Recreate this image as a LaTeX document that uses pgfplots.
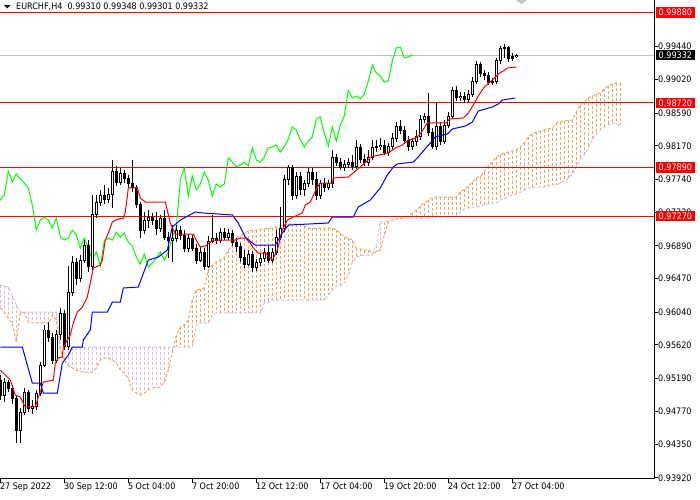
\documentclass[border=0pt]{standalone}
\usepackage{pgfplots}
\pgfplotsset{compat=1.18}
\usepackage{pgfplotstable}
\usepackage{fontspec}
\setmainfont{DejaVu Sans Condensed}
\definecolor{mtsandy}{HTML}{F4A460}
\definecolor{mtthistle}{HTML}{D8BFD8}
\definecolor{mtgreen}{HTML}{00FF00}
\definecolor{mtred}{HTML}{FF0000}
\definecolor{mtblue}{HTML}{0000FF}
\definecolor{mtsilver}{HTML}{C0C0C0}
\newcommand\lab{\fontsize{9}{10}\selectfont}

\pgfplotstableread{
i o h l c
0 0.95171 0.95235 0.94915 0.94979
1 0.94979 0.95197 0.94889 0.95145
2 0.95145 0.95171 0.95017 0.95069
3 0.95069 0.95107 0.94864 0.94941
4 0.94941 0.94979 0.94365 0.94531
5 0.94531 0.94813 0.94365 0.94761
6 0.94761 0.95069 0.94723 0.95017
7 0.95017 0.95043 0.94761 0.94813
8 0.94813 0.94915 0.94736 0.94838
9 0.94838 0.95043 0.94787 0.95005
10 0.95005 0.95401 0.94966 0.95363
11 0.95363 0.95876 0.95337 0.95812
12 0.95812 0.95914 0.95658 0.95710
13 0.95710 0.95774 0.95376 0.95427
14 0.95427 0.95812 0.95389 0.95748
15 0.95748 0.96094 0.95684 0.96017
16 0.96017 0.96068 0.95556 0.95607
17 0.95607 0.96631 0.95556 0.96298
18 0.96298 0.96759 0.96247 0.96682
19 0.96682 0.96733 0.96388 0.96477
20 0.96477 0.96772 0.96426 0.96708
21 0.96708 0.96964 0.96670 0.96900
22 0.96900 0.96964 0.96554 0.96631
23 0.96631 0.97541 0.96580 0.97285
24 0.97285 0.97541 0.97246 0.97451
25 0.97451 0.97605 0.97400 0.97528
26 0.97528 0.97669 0.97426 0.97477
27 0.97477 0.97631 0.97439 0.97541
28 0.97541 0.97989 0.97375 0.97848
29 0.97848 0.97912 0.97656 0.97707
30 0.97707 0.97887 0.97669 0.97810
31 0.97810 0.97861 0.97694 0.97746
32 0.97746 0.97797 0.97631 0.97694
33 0.97694 0.97989 0.97579 0.97631
34 0.97631 0.97669 0.97375 0.97413
35 0.97413 0.97451 0.96990 0.97092
36 0.97092 0.97323 0.97041 0.97220
37 0.97220 0.97349 0.97118 0.97259
38 0.97259 0.97310 0.97156 0.97220
39 0.97220 0.97323 0.97028 0.97118
40 0.97118 0.97285 0.97066 0.97246
41 0.97246 0.97349 0.96964 0.97002
42 0.97002 0.97066 0.96733 0.96964
43 0.96964 0.97156 0.96682 0.96990
44 0.96990 0.97156 0.96938 0.97092
45 0.97092 0.97143 0.96964 0.97028
46 0.97028 0.97092 0.96810 0.96861
47 0.96861 0.97041 0.96810 0.96990
48 0.96990 0.97028 0.96823 0.96861
49 0.96861 0.96913 0.96657 0.96708
50 0.96708 0.96874 0.96682 0.96810
51 0.96810 0.96861 0.96580 0.96631
52 0.96631 0.97015 0.96605 0.96951
53 0.96951 0.97285 0.96926 0.96990
54 0.96990 0.97054 0.96913 0.96964
55 0.96964 0.97118 0.96926 0.97066
56 0.97066 0.97118 0.96964 0.97002
57 0.97002 0.97105 0.96964 0.97054
58 0.97054 0.97092 0.96887 0.96938
59 0.96938 0.96990 0.96810 0.96887
60 0.96887 0.96926 0.96682 0.96746
61 0.96746 0.96836 0.96605 0.96657
62 0.96657 0.96836 0.96631 0.96785
63 0.96785 0.96823 0.96554 0.96618
64 0.96618 0.96721 0.96567 0.96670
65 0.96670 0.96798 0.96631 0.96733
66 0.96733 0.96861 0.96682 0.96810
67 0.96810 0.96887 0.96670 0.96708
68 0.96708 0.96861 0.96670 0.96810
69 0.96810 0.97092 0.96772 0.97002
70 0.97002 0.97387 0.96964 0.97118
71 0.97118 0.97797 0.97066 0.97733
72 0.97733 0.97925 0.97669 0.97887
73 0.97887 0.97925 0.97477 0.97528
74 0.97528 0.97835 0.97490 0.97784
75 0.97784 0.97835 0.97541 0.97605
76 0.97605 0.97733 0.97528 0.97682
77 0.97682 0.97887 0.97643 0.97835
78 0.97835 0.97887 0.97669 0.97733
79 0.97733 0.97835 0.97477 0.97528
80 0.97528 0.97733 0.97490 0.97682
81 0.97682 0.97759 0.97579 0.97643
82 0.97643 0.97733 0.97605 0.97682
83 0.97682 0.98117 0.97631 0.98015
84 0.98015 0.98066 0.97912 0.97963
85 0.97963 0.98015 0.97861 0.97899
86 0.97899 0.97989 0.97848 0.97925
87 0.97925 0.98015 0.97887 0.97963
88 0.97963 0.98053 0.97861 0.97912
89 0.97912 0.98245 0.97874 0.98143
90 0.98143 0.98194 0.97951 0.97989
91 0.97989 0.98066 0.97912 0.97963
92 0.97963 0.98117 0.97912 0.98027
93 0.98027 0.98245 0.97989 0.98143
94 0.98143 0.98245 0.98091 0.98156
95 0.98156 0.98271 0.98117 0.98181
96 0.98181 0.98245 0.98053 0.98091
97 0.98091 0.98207 0.98040 0.98156
98 0.98156 0.98335 0.98117 0.98258
99 0.98258 0.98475 0.98219 0.98412
100 0.98412 0.98501 0.98322 0.98373
101 0.98373 0.98424 0.98194 0.98245
102 0.98245 0.98296 0.98104 0.98156
103 0.98156 0.98271 0.98117 0.98232
104 0.98232 0.98373 0.98168 0.98284
105 0.98284 0.98565 0.98245 0.98514
106 0.98514 0.98591 0.98463 0.98540
107 0.98540 0.98847 0.98296 0.98335
108 0.98335 0.98399 0.98130 0.98168
109 0.98168 0.98719 0.98117 0.98412
110 0.98412 0.98475 0.98181 0.98232
111 0.98232 0.98501 0.98194 0.98437
112 0.98437 0.98603 0.98399 0.98552
113 0.98552 0.98924 0.98514 0.98885
114 0.98885 0.98936 0.98744 0.98783
115 0.98783 0.98859 0.98744 0.98808
116 0.98808 0.98859 0.98719 0.98770
117 0.98770 0.98885 0.98731 0.98834
118 0.98834 0.99052 0.98796 0.99000
119 0.99000 0.99257 0.98962 0.99206
120 0.99206 0.99244 0.99052 0.99103
121 0.99103 0.99142 0.99013 0.99065
122 0.99065 0.99116 0.98949 0.98987
123 0.98987 0.99039 0.98949 0.99000
124 0.99000 0.99295 0.98962 0.99257
125 0.99257 0.99449 0.99218 0.99423
126 0.99423 0.99474 0.99295 0.99436
127 0.99436 0.99449 0.99244 0.99295
128 0.99295 0.99359 0.99257 0.99308
129 0.99310 0.99348 0.99301 0.99332
}\candles

\pgfplotstableread{
i a b
0 0.96094 0.96388
1 0.96042 0.96375
2 0.95966 0.96362
3 0.95902 0.96247
4 0.95658 0.96132
5 0.96030 0.96042
6 0.96030 0.96042
7 0.95914 0.96042
8 0.95902 0.96042
9 0.95902 0.96042
10 0.95902 0.96042
11 0.95902 0.96042
12 0.95889 0.96042
13 0.96004 0.96042
14 0.95940 0.96042
15 0.95556 0.95594
16 0.95427 0.95594
17 0.95350 0.95594
18 0.95325 0.95594
19 0.95299 0.95594
20 0.95286 0.95594
21 0.95273 0.95594
22 0.95273 0.95594
23 0.95273 0.95594
24 0.95325 0.95594
25 0.95427 0.95594
26 0.95453 0.95594
27 0.95453 0.95594
28 0.95427 0.95594
29 0.95389 0.95594
30 0.95299 0.95594
31 0.95261 0.95594
32 0.95197 0.95594
33 0.95043 0.95594
34 0.95005 0.95594
35 0.94979 0.95594
36 0.95005 0.95594
37 0.95043 0.95594
38 0.95069 0.95594
39 0.95081 0.95594
40 0.95081 0.95594
41 0.95145 0.95594
42 0.95299 0.95594
43 0.95530 0.95594
44 0.95748 0.95594
45 0.95850 0.95594
46 0.95876 0.95594
47 0.95940 0.95594
48 0.96196 0.95594
49 0.96324 0.95876
50 0.96337 0.95902
51 0.96350 0.95902
52 0.96580 0.95902
53 0.96644 0.96004
54 0.96682 0.96030
55 0.96708 0.96030
56 0.96733 0.96030
57 0.96836 0.96030
58 0.96900 0.96030
59 0.96990 0.96030
60 0.97015 0.96030
61 0.97054 0.96030
62 0.97079 0.96030
63 0.97092 0.96030
64 0.97092 0.96030
65 0.97105 0.96030
66 0.97105 0.96158
67 0.97118 0.96158
68 0.97118 0.96196
69 0.97131 0.96196
70 0.97143 0.96196
71 0.97156 0.96196
72 0.97169 0.96196
73 0.97169 0.96196
74 0.97169 0.96196
75 0.97169 0.96196
76 0.97143 0.96196
77 0.97118 0.96196
78 0.97118 0.96196
79 0.97118 0.96196
80 0.97118 0.96196
81 0.97118 0.96196
82 0.97118 0.96260
83 0.97118 0.96324
84 0.97092 0.96375
85 0.97054 0.96375
86 0.97002 0.96414
87 0.96990 0.96516
88 0.96964 0.96682
89 0.96861 0.96746
90 0.96849 0.96759
91 0.96836 0.96772
92 0.96836 0.96772
93 0.96798 0.96772
94 0.96810 0.96900
95 0.96836 0.97195
96 0.97028 0.97195
97 0.97195 0.97208
98 0.97220 0.97220
99 0.97233 0.97233
100 0.97246 0.97233
101 0.97259 0.97246
102 0.97272 0.97246
103 0.97310 0.97246
104 0.97349 0.97246
105 0.97400 0.97246
106 0.97438 0.97246
107 0.97477 0.97246
108 0.97502 0.97246
109 0.97515 0.97259
110 0.97515 0.97259
111 0.97515 0.97259
112 0.97515 0.97259
113 0.97515 0.97259
114 0.97515 0.97272
115 0.97579 0.97323
116 0.97618 0.97362
117 0.97656 0.97374
118 0.97707 0.97387
119 0.97759 0.97387
120 0.97784 0.97400
121 0.97835 0.97413
122 0.97912 0.97426
123 0.97963 0.97438
124 0.98027 0.97438
125 0.98053 0.97477
126 0.98079 0.97502
127 0.98091 0.97515
128 0.98104 0.97541
129 0.98117 0.97554
130 0.98156 0.97579
131 0.98207 0.97605
132 0.98284 0.97631
133 0.98322 0.97631
134 0.98347 0.97643
135 0.98360 0.97643
136 0.98373 0.97643
137 0.98386 0.97656
138 0.98399 0.97669
139 0.98463 0.97669
140 0.98475 0.97694
141 0.98488 0.97720
142 0.98501 0.97746
143 0.98501 0.97810
144 0.98603 0.97899
145 0.98693 0.97989
146 0.98732 0.98053
147 0.98783 0.98143
148 0.98808 0.98245
149 0.98834 0.98322
150 0.98847 0.98373
151 0.98898 0.98412
152 0.98937 0.98437
153 0.98962 0.98463
154 0.98975 0.98450
155 0.98975 0.98437
}\kumo

\begin{document}
\begin{tikzpicture}
\begin{axis}[
  at={(0bp,500bp)}, anchor=north west,
  scale only axis, width=654bp, height=479bp,
  xmin=-0.075, xmax=163.425,
  ymin=0.93904, ymax=1.00038,
  axis x line*=bottom, axis y line*=right,
  axis line style={draw=black, line width=1bp},
  major tick style={draw=black, line width=1bp},
  tick align=outside, major tick length=4bp,
  xtick={0,16,32,48,64,80,96,112,128},
  xticklabels={27 Sep 2022,30 Sep 12:00,5 Oct 04:00,7 Oct 20:00,12 Oct 12:00,17 Oct 04:00,19 Oct 20:00,24 Oct 12:00,27 Oct 04:00},
  ytick={0.9392,0.9435,0.9477,0.9519,0.9562,0.9604,0.9647,0.9689,0.9732,0.9774,0.9817,0.9859,0.9902,0.9944},
  yticklabels={0.93920,0.94350,0.94770,0.95190,0.95620,0.96040,0.96470,0.96890,0.97320,0.97740,0.98170,0.98590,0.99020,0.99440},
  scaled y ticks=false,
  tick label style={font=\lab},
  xticklabel style={anchor=north west, inner sep=0pt, xshift=-0.5bp},
  yticklabel style={anchor=west, inner sep=0pt},
  clip=true,
]
% kumo columns
\addplot[draw=none, mark=none, forget plot,
  restrict expr to domain={\thisrow{a}-\thisrow{b}}{0:1},
  error bars/.cd, y dir=minus, y explicit, error mark=none,
  error bar style={draw=mtsandy, line width=1bp, dash pattern=on 3bp off 2bp}]
  table[x=i, y=a, y error minus expr=\thisrow{a}-\thisrow{b}] {\kumo};
\addplot[draw=none, mark=none, forget plot,
  restrict expr to domain={\thisrow{b}-\thisrow{a}}{0.0000001:1},
  error bars/.cd, y dir=minus, y explicit, error mark=none,
  error bar style={draw=mtthistle, line width=1bp, dash pattern=on 3bp off 2bp}]
  table[x=i, y=b, y error minus expr=\thisrow{b}-\thisrow{a}] {\kumo};
% kumo edges
\addplot[mtsandy, line width=1bp, dash pattern=on 3bp off 2bp, mark=none] table[x=i, y=a] {\kumo};
\addplot[mtthistle, line width=1bp, dash pattern=on 3bp off 2bp, mark=none] table[x=i, y=b] {\kumo};
% horizontal lines
\addplot[mtsilver, line width=1bp, mark=none] coordinates {(-2,0.99332) (170,0.99332)};
\addplot[mtred, line width=1bp, mark=none] coordinates {(-2,0.99880) (170,0.99880)};
\addplot[mtred, line width=1bp, mark=none] coordinates {(-2,0.98720) (170,0.98720)};
\addplot[mtred, line width=1bp, mark=none] coordinates {(-2,0.97890) (170,0.97890)};
\addplot[mtred, line width=1bp, mark=none] coordinates {(-2,0.97270) (170,0.97270)};
% chikou
\addplot[mtgreen, line width=1bp, mark=none] table[x expr=\thisrow{i}-26, y=c] {\candles};
% candles: wicks
\addplot[draw=none, mark=none, forget plot,
  error bars/.cd, y dir=plus, y explicit, error mark=none,
  error bar style={draw=black, line width=1bp}]
  table[x=i, y=l, y error plus expr=\thisrow{h}-\thisrow{l}] {\candles};
% bodies
\addplot[draw=none, mark=none, forget plot,
  error bars/.cd, y dir=minus, y explicit, error mark=none,
  error bar style={draw=black, line width=3bp}]
  table[x=i, y expr={max(\thisrow{o},\thisrow{c})+0.000064}, y error minus expr={abs(\thisrow{c}-\thisrow{o})+0.000128}] {\candles};
\addplot[draw=none, mark=none, forget plot,
  restrict expr to domain={\thisrow{c}-\thisrow{o}}{0.00015:1},
  error bars/.cd, y dir=minus, y explicit, error mark=none,
  error bar style={draw=white, line width=1bp}]
  table[x=i, y expr={\thisrow{c}-0.000064}, y error minus expr={\thisrow{c}-\thisrow{o}-0.000128}] {\candles};
% tenkan
\addplot[mtred, line width=1bp, mark=none] coordinates {
(0,0.95299) (2.5,0.95171) (3.75,0.94979) (5,0.94954) (6.25,0.94826) (8.75,0.94826)
(9.5,0.94954) (10,0.95017) (10.75,0.95145) (13.25,0.95171) (13.75,0.95389) (14.5,0.95453)
(15.5,0.95466) (15.75,0.95594) (17.5,0.95748) (18.25,0.95902) (19.25,0.96042) (20.5,0.96106)
(21.75,0.96234) (22.5,0.96414) (23,0.96542) (23.25,0.96606) (25,0.96644) (25.5,0.96708)
(26.25,0.96964) (27,0.97054) (28,0.97195) (28.75,0.97220) (30.75,0.97246) (31.25,0.97323)
(31.75,0.97515) (32,0.97631) (34.25,0.97631) (35,0.97502) (36.25,0.97451) (41.25,0.97451)
(42.5,0.97182) (43.75,0.97041) (48.25,0.97041) (49.25,0.96938) (50,0.96874) (51.25,0.96887)
(52.5,0.96938) (53.25,0.96964) (58.75,0.96964) (60,0.96990) (61.25,0.96990) (62.5,0.96926)
(63.25,0.96861) (64.5,0.96798) (66.25,0.96798) (68,0.96708) (69.25,0.96836) (70.5,0.97092)
(71.75,0.97220) (73.25,0.97259) (75.5,0.97310) (76.25,0.97413) (77.5,0.97451) (79.25,0.97643)
(80,0.97694) (83,0.97694) (83.25,0.97759) (87,0.97771) (88.25,0.97823) (92,0.97989)
(92.5,0.98027) (97,0.98079) (98.75,0.98143) (100.5,0.98181) (102,0.98245) (103.25,0.98258)
(104.5,0.98296) (105.5,0.98360) (106.75,0.98463) (111.5,0.98463) (112.25,0.98514) (115.75,0.98527)
(117,0.98591) (118.25,0.98693) (119.5,0.98808) (121,0.98924) (123,0.99013) (124.5,0.99090)
(125.75,0.99129) (126.75,0.99167) (129,0.99180)};
% kijun
\addplot[mtblue, line width=1bp, mark=none] coordinates {
(0,0.95594) (5.5,0.95594) (8,0.95133) (10,0.95133) (10.75,0.95005) (14.25,0.95005)
(15.5,0.95389) (17,0.95491) (18,0.95594) (20.5,0.95594) (20.75,0.95684) (22.5,0.95812)
(23,0.96042) (26.75,0.96042) (28,0.96170) (30,0.96170) (30.75,0.96350) (34.5,0.96362)
(37,0.96708) (39.5,0.96746) (41.75,0.96836) (43,0.97131) (45,0.97220) (48.75,0.97323)
(50.75,0.97310) (58,0.97285) (59.5,0.97182) (61.25,0.97002) (63,0.96926) (63.75,0.96900)
(68.75,0.96900) (70.5,0.97054) (72,0.97156) (82,0.97182) (83,0.97259) (88.25,0.97259)
(89.5,0.97387) (92.5,0.97477) (95,0.97631) (96.75,0.97797) (98.25,0.97899) (99.25,0.97938)
(103.25,0.97963) (104.25,0.98015) (105.75,0.98104) (107.5,0.98207) (108.75,0.98284) (111.75,0.98322)
(113,0.98386) (116.25,0.98424) (118,0.98475) (119.5,0.98616) (123,0.98668) (124.5,0.98706)
(125.5,0.98757) (128.75,0.98783)};
\coordinate (rA) at (axis cs:163.425,0.99880);
\coordinate (rB) at (axis cs:163.425,0.98720);
\coordinate (rC) at (axis cs:163.425,0.97890);
\coordinate (rD) at (axis cs:163.425,0.97270);
\coordinate (rE) at (axis cs:163.425,0.99332);
\coordinate (cSW) at (axis cs:-0.075,0.93904);
\coordinate (cSE) at (axis cs:163.425,0.93904);
\coordinate (cNE) at (axis cs:163.425,1.00038);
\coordinate (ya) at (axis cs:163.425,0.9392);
\coordinate (yb) at (axis cs:163.425,0.9435);
\coordinate (yc) at (axis cs:163.425,0.9477);
\coordinate (yd) at (axis cs:163.425,0.9519);
\coordinate (ye) at (axis cs:163.425,0.9562);
\coordinate (yf) at (axis cs:163.425,0.9604);
\coordinate (yg) at (axis cs:163.425,0.9647);
\coordinate (yh) at (axis cs:163.425,0.9689);
\coordinate (yi) at (axis cs:163.425,0.9732);
\coordinate (yj) at (axis cs:163.425,0.9774);
\coordinate (yk) at (axis cs:163.425,0.9817);
\coordinate (yl) at (axis cs:163.425,0.9859);
\coordinate (ym) at (axis cs:163.425,0.9902);
\coordinate (yn) at (axis cs:163.425,0.9944);
\coordinate (xa) at (axis cs:0,0.93904);
\coordinate (xb) at (axis cs:16,0.93904);
\coordinate (xc) at (axis cs:32,0.93904);
\coordinate (xd) at (axis cs:48,0.93904);
\coordinate (xe) at (axis cs:64,0.93904);
\coordinate (xf) at (axis cs:80,0.93904);
\coordinate (xg) at (axis cs:96,0.93904);
\coordinate (xh) at (axis cs:112,0.93904);
\coordinate (xi) at (axis cs:128,0.93904);
\end{axis}
\draw[draw=black, line width=1bp] (cSW) -- (cSE) -- (cNE);
\foreach \c in {ya,yb,yc,yd,ye,yf,yg,yh,yi,yj,yk,yl,ym,yn} {\draw[black, line width=1bp] (\c) -- ++(4bp,0);}
\foreach \c in {xa,xb,xc,xd,xe,xf,xg,xh,xi} {\draw[black, line width=1bp] (\c) -- ++(0,-4bp);}
\tikzset{pl/.style={anchor=west, font=\lab, text=white, inner xsep=2.5bp, inner ysep=0pt, minimum height=10.5bp}}
\node[pl, fill=mtred] at ([xshift=2bp]rA) {0.99880};
\node[pl, fill=mtred] at ([xshift=2bp]rB) {0.98720};
\node[pl, fill=mtred] at ([xshift=2bp]rC) {0.97890};
\node[pl, fill=mtred] at ([xshift=2bp]rD) {0.97270};
\node[pl, fill=black] at ([xshift=2bp]rE) {0.99332};
\fill[black] (4bp,495bp) -- (10.5bp,495bp) -- (7.25bp,491.5bp) -- cycle;
\node[anchor=west, inner sep=0pt, font=\lab] at (16bp,493bp) {EURCHF,H4\ \ 0.99310 0.99348 0.99301 0.99332};
\fill[gray!45] (516bp,500bp) -- (527bp,500bp) -- (521.5bp,495.5bp) -- cycle;
\pgfresetboundingbox
\path[use as bounding box] (0bp,0bp) rectangle (700bp,500bp);
\end{tikzpicture}
\end{document}
